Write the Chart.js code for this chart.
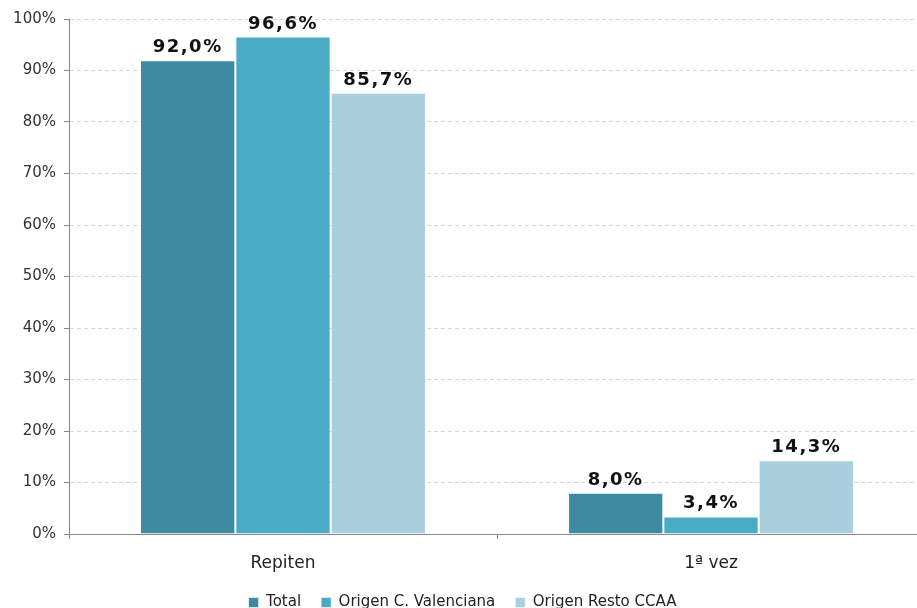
<!DOCTYPE html>
<html>
<head>
<meta charset="utf-8">
<script src="https://cdn.jsdelivr.net/npm/chart.js@4"></script>
<style>
  html, body { margin: 0; padding: 0; background: #fff; overflow: hidden; }
  #wrap { width: 925px; height: 620px; }
</style>
</head>
<body>
<div id="wrap"><canvas id="barChart"></canvas></div>
<script>
// Datos
const categories = ['Repiten', '1ª vez'];
const seriesNames = ['Total', 'Origen C. Valenciana', 'Origen Resto CCAA'];
const totalValues = [92.0, 8.0];
const valencianaValues = [96.6, 3.4];
const restoValues = [85.7, 14.3];
const seriesColors = ['#3d8ba1', '#4aabc6', '#a9cedd'];
const yTicks = [0, 10, 20, 30, 40, 50, 60, 70, 80, 90, 100];

// Etiquetas encima de las barras
const valueLabels = {
    id: 'valueLabels',
    afterDatasetsDraw(chart) {
        const ctx = chart.ctx;
        ctx.save();
        ctx.font = 'bold 18px "DejaVu Sans"';
        ctx.fillStyle = '#111';
        ctx.textAlign = 'center';
        ctx.textBaseline = 'alphabetic';
        if ('letterSpacing' in ctx) ctx.letterSpacing = '1.5px';
        chart.data.datasets.forEach((ds, i) => {
            chart.getDatasetMeta(i).data.forEach((bar, j) => {
                const txt = ds.data[j].toFixed(1).replace('.', ',') + '%';
                ctx.fillText(txt, bar.x, bar.y - 8);
            });
        });
        ctx.restore();
    }
};

const barChart = new Chart(document.getElementById('barChart').getContext('2d'), {
    type: 'bar',
    data: {
        labels: categories,
        datasets: [
            { label: seriesNames[0], data: totalValues, backgroundColor: seriesColors[0] },
            { label: seriesNames[1], data: valencianaValues, backgroundColor: seriesColors[1] },
            { label: seriesNames[2], data: restoValues, backgroundColor: seriesColors[2] }
        ].map(ds => Object.assign(ds, {
            borderColor: 'rgba(255,255,255,0.6)',
            borderWidth: 1,
            borderSkipped: 'bottom',
            categoryPercentage: 0.668,
            barPercentage: 1
        }))
    },
    options: {
        responsive: true,
        maintainAspectRatio: false,
        animation: false,
        layout: { padding: { top: 19, left: 0, right: 0, bottom: 0 } },
        plugins: {
            legend: {
                position: 'bottom',
                labels: {
                    boxWidth: 10,
                    boxHeight: 10,
                    padding: 20,
                    color: '#222',
                    font: { family: 'DejaVu Sans', size: 15 }
                }
            },
            tooltip: { enabled: false }
        },
        scales: {
            x: {
                afterFit(scale) { scale.height = 41; },
                border: { color: '#888', width: 1 },
                grid: {
                    offset: true,
                    drawOnChartArea: false,
                    tickLength: 5,
                    color: '#888'
                },
                ticks: {
                    color: '#222',
                    padding: 14,
                    font: { family: 'DejaVu Sans', size: 17 }
                }
            },
            y: {
                min: 0,
                max: 100,
                afterFit(scale) { scale.width = 69; },
                afterBuildTicks(scale) { scale.ticks = yTicks.map(v => ({ value: v })); },
                border: { color: '#888', width: 1, dash: [4, 3] },
                grid: {
                    color: '#d6d6d6',
                    tickBorderDash: [],
                    tickColor: '#888',
                    tickLength: 5
                },
                ticks: {
                    color: '#333',
                    padding: 8,
                    font: { family: 'DejaVu Sans', size: 15 },
                    callback: v => v + '%'
                }
            }
        }
    },
    plugins: [valueLabels]
});
</script>
</body>
</html>
